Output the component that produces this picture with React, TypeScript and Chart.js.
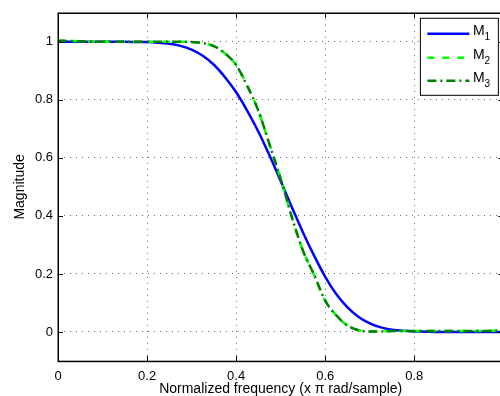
import React, { useEffect, useRef } from "react";
import { Chart, registerables } from "chart.js";

Chart.register(...registerables);

const FONT = "'Liberation Sans', Arial, Helvetica, sans-serif";

const freq = [
  0, 0.025, 0.05, 0.075, 0.1, 0.125, 0.15, 0.175, 0.2, 0.225,
  0.25, 0.275, 0.3, 0.325, 0.35, 0.375, 0.4, 0.425, 0.45, 0.475,
  0.5, 0.525, 0.55, 0.575, 0.6, 0.625, 0.65, 0.675, 0.7, 0.725,
  0.75, 0.775, 0.8, 0.825, 0.85, 0.875, 0.9, 0.925, 0.95, 0.975, 1.0,
];

const m1 = [
  1.0, 1.0, 1.0, 1.0, 1.0, 1.0, 1.0, 0.9995, 0.999, 0.997,
  0.993, 0.986, 0.973, 0.952, 0.921, 0.878, 0.826, 0.762, 0.69, 0.608,
  0.52, 0.43, 0.343, 0.263, 0.19, 0.13, 0.085, 0.052, 0.03, 0.016,
  0.008, 0.004, 0.002, 0.001, 0.0, 0.0, 0.0, 0.0, 0.0, 0.0, 0.0,
];

const m2 = [
  1.004, 1.003, 1.002, 1.001, 1.0, 1.0, 1.0, 1.0, 1.0, 1.0,
  1.0, 1.0, 0.999, 0.996, 0.985, 0.96, 0.92, 0.848, 0.762, 0.646,
  0.528, 0.396, 0.28, 0.197, 0.108, 0.057, 0.022, 0.006, 0.002, 0.002,
  0.003, 0.003, 0.003, 0.003, 0.003, 0.003, 0.003, 0.003, 0.003, 0.004, 0.004,
];

const m3 = [
  1.004, 1.003, 1.002, 1.001, 1.0, 1.0, 1.0, 1.0, 1.0, 1.0,
  1.0, 1.0, 0.999, 0.996, 0.985, 0.96, 0.92, 0.848, 0.762, 0.646,
  0.528, 0.396, 0.28, 0.197, 0.108, 0.057, 0.022, 0.006, 0.002, 0.002,
  0.003, 0.003, 0.003, 0.003, 0.003, 0.003, 0.003, 0.003, 0.003, 0.004, 0.004,
];

const xTicks = [0, 0.2, 0.4, 0.6, 0.8, 1];
const yTicks = [0, 0.2, 0.4, 0.6, 0.8, 1];
const seriesNames = ["M", "M", "M"];
const seriesSubs = ["1", "2", "3"];
const xTitle = "Normalized frequency (x \u03c0 rad/sample)";
const yTitle = "Magnitude";

const pts = (ys: number[]) => freq.map((f, i) => ({ x: f, y: ys[i] }));

const styles = [
  { color: "#0000ff", dash: [] as number[], width: 2.5 },
  { color: "#00ff00", dash: [7, 8], width: 2.5 },
  { color: "#008000", dash: [9, 4, 2, 4], width: 2.5 },
];

const framePlugin = {
  id: "frame",
  afterDatasetsDraw(chart: any) {
    const { ctx, chartArea } = chart;
    const { left, right, top, bottom } = chartArea;
    const xs = chart.scales.x;
    const ys = chart.scales.y;
    ctx.save();
    ctx.strokeStyle = "#000";
    ctx.lineWidth = 1;
    ctx.setLineDash([]);
    ctx.beginPath();
    xTicks.forEach((v) => {
      const px = Math.round(xs.getPixelForValue(v)) + 0.5;
      ctx.moveTo(px, top);
      ctx.lineTo(px, top + 5);
      ctx.moveTo(px, bottom);
      ctx.lineTo(px, bottom - 5);
    });
    yTicks.forEach((v) => {
      const py = Math.round(ys.getPixelForValue(v)) + 0.5;
      ctx.moveTo(left, py);
      ctx.lineTo(left + 5, py);
      ctx.moveTo(right, py);
      ctx.lineTo(right - 5, py);
    });
    ctx.stroke();
    ctx.lineWidth = 1.5;
    ctx.strokeRect(Math.round(left) + 0.25, Math.round(top) + 0.25, right - left, bottom - top);

    // legend
    const bx1 = right - 5;
    const bx0 = bx1 - 78;
    const by0 = top + 5.5;
    const by1 = by0 + 77;
    ctx.fillStyle = "#fff";
    ctx.fillRect(bx0, by0, bx1 - bx0, by1 - by0);
    ctx.lineWidth = 1;
    ctx.strokeStyle = "#000";
    ctx.strokeRect(bx0, by0, bx1 - bx0, by1 - by0);
    const rowY = [by0 + 15.5, by0 + 39.5, by0 + 62.5];
    styles.forEach((s, i) => {
      const y = rowY[i];
      ctx.beginPath();
      ctx.strokeStyle = s.color;
      ctx.lineWidth = s.width;
      ctx.setLineDash(s.dash);
      ctx.moveTo(bx0 + 7, y);
      ctx.lineTo(bx0 + 49, y);
      ctx.stroke();
      ctx.setLineDash([]);
      ctx.fillStyle = "#000";
      ctx.textBaseline = "alphabetic";
      ctx.textAlign = "left";
      ctx.font = `14px ${FONT}`;
      const tx = bx0 + 52.5;
      ctx.fillText(seriesNames[i], tx, y + 0.8);
      const w = ctx.measureText(seriesNames[i]).width;
      ctx.font = `10px ${FONT}`;
      ctx.fillText(seriesSubs[i], tx + w, y + 6.5);
    });
    ctx.restore();
  },
};

export default function App() {
  const ref = useRef<HTMLCanvasElement>(null);
  useEffect(() => {
    if (!ref.current) return;
    const chart = new Chart(ref.current, {
      type: "line",
      data: {
        datasets: [
          { label: "M1", data: pts(m1), order: 3 },
          { label: "M2", data: pts(m2), order: 2 },
          { label: "M3", data: pts(m3), order: 1 },
        ].map((d, i) => ({
          ...d,
          borderColor: styles[i].color,
          backgroundColor: styles[i].color,
          borderWidth: styles[i].width,
          borderDash: styles[i].dash,
          pointRadius: 0,
          fill: false,
          cubicInterpolationMode: "monotone" as const,
        })),
      },
      options: {
        animation: false,
        responsive: false,
        devicePixelRatio: 1,
        layout: { padding: { top: 9, right: 8, left: 0, bottom: 0 } },
        plugins: { legend: { display: false }, tooltip: { enabled: false } },
        scales: {
          x: {
            type: "linear",
            min: 0,
            max: 1,
            afterBuildTicks: (s: any) => {
              s.ticks = xTicks.map((v) => ({ value: v }));
            },
            afterFit: (s: any) => {
              s.height = 35;
            },
            ticks: {
              color: "#000",
              font: { family: FONT, size: 13 },
              padding: 8,
              maxRotation: 0,
              callback: (v: any) => String(v),
            },
            grid: { color: "rgba(0,0,0,0.6)", lineWidth: 1, drawTicks: false },
            border: { display: false, dash: [1, 5] },
            title: {
              display: true,
              text: xTitle,
              color: "#000",
              font: { family: FONT, size: 14 },
              padding: { top: 0, bottom: -2 },
            },
          },
          y: {
            type: "linear",
            min: -0.1,
            max: 1.1,
            afterBuildTicks: (s: any) => {
              s.ticks = yTicks.map((v) => ({ value: v }));
            },
            afterFit: (s: any) => {
              s.width = 58;
            },
            ticks: {
              color: "#000",
              font: { family: FONT, size: 13 },
              padding: 5,
              callback: (v: any) => String(v),
            },
            grid: { color: "rgba(0,0,0,0.6)", lineWidth: 1, drawTicks: false },
            border: { display: false, dash: [1, 5] },
            title: {
              display: true,
              text: yTitle,
              color: "#000",
              font: { family: FONT, size: 14 },
              padding: { top: 12, bottom: 0 },
            },
          },
        },
      },
      plugins: [framePlugin],
    });
    return () => chart.destroy();
  }, []);
  return (
    <div
      style={{
        position: "absolute",
        left: 0,
        top: 0,
        width: 500,
        height: 396,
        overflow: "hidden",
        background: "#fff",
      }}
    >
      <canvas ref={ref} width={515} height={396} style={{ display: "block" }} />
    </div>
  );
}
